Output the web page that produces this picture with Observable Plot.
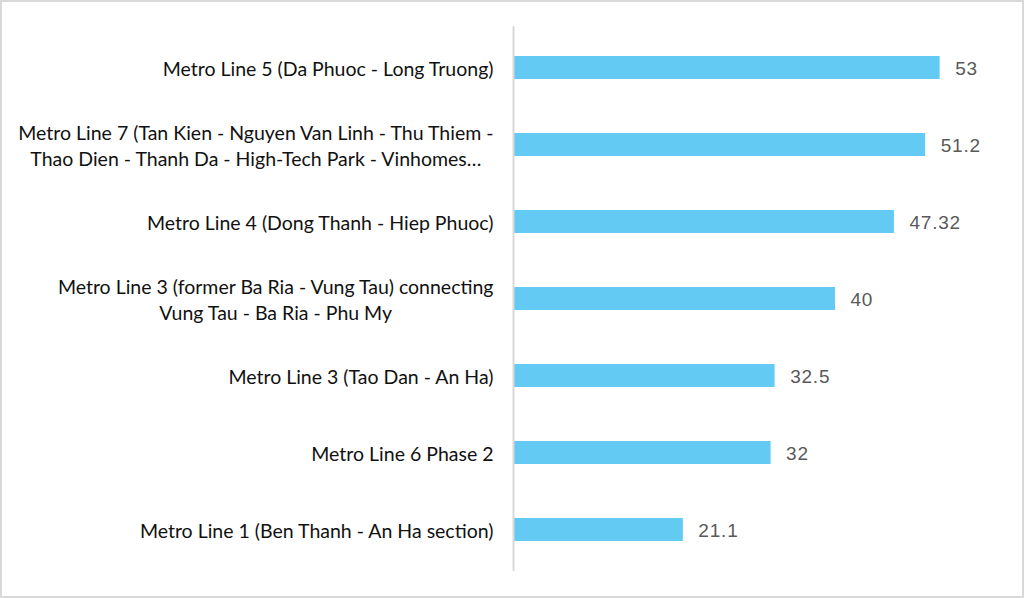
<!DOCTYPE html>
<html>
<head>
<meta charset="utf-8">
<script src="https://cdn.jsdelivr.net/npm/d3@7"></script>
<script src="https://cdn.jsdelivr.net/npm/@observablehq/plot@0.6"></script>
<style>
  html, body { margin: 0; padding: 0; background: #fff; }
  #frame { width: 1024px; height: 598px; box-sizing: border-box; border: 2px solid #d9d9d9; background: #fff; overflow: hidden; }
  #frame svg { display: block; }
</style>
</head>
<body>
<div id="frame"></div>
<script>
const categories = [
  "Metro Line 5 (Da Phuoc - Long Truong)",
  "Metro Line 7 (Tan Kien - Nguyen Van Linh - Thu Thiem -\nThao Dien - Thanh Da - High-Tech Park - Vinhomes…",
  "Metro Line 4 (Dong Thanh - Hiep Phuoc)",
  "Metro Line 3 (former Ba Ria - Vung Tau) connecting\nVung Tau - Ba Ria - Phu My",
  "Metro Line 3 (Tao Dan - An Ha)",
  "Metro Line 6 Phase 2",
  "Metro Line 1 (Ben Thanh - An Ha section)"
];
const values = [53, 51.2, 47.32, 40, 32.5, 32, 21.1];
const valueLabels = ["53", "51.2", "47.32", "40", "32.5", "32", "21.1"];

const data = categories.map((c, i) => ({name: c, value: values[i], label: valueLabels[i]}));

const chart = Plot.plot({
  width: 1020,
  height: 594,
  marginLeft: 511,
  marginRight: 26,
  marginTop: 24,
  marginBottom: 25,
  style: {background: "#fff", overflow: "visible"},
  x: {domain: [0, 60], axis: null},
  y: {domain: categories, padding: 0, label: null},
  marks: [
    Plot.barX(data, {x: "value", y: "name", fill: "#63cbf3", insetTop: 27, insetBottom: 27}),
    Plot.ruleX([0], {stroke: "#d9d9d9", strokeWidth: 2}),
    Plot.text(data, {x: "value", y: "name", text: "label", textAnchor: "start", dx: 15, dy: 1,
      fill: "#595959", fontSize: 19, fontFamily: "Liberation Sans, Arial, sans-serif"}),
    Plot.axisY({tickSize: 0, tickPadding: 20, label: null, fontSize: 19.5, lineHeight: 1.33,
      fontFamily: "Lato, sans-serif", fill: "#111", textOverflow: null})
  ]
});
document.getElementById("frame").appendChild(chart);

// value labels: slightly spaced digits like the reference
chart.querySelectorAll("g[aria-label='text'] text").forEach(t => t.setAttribute("letter-spacing", "0.8"));

// center-align the lines of multi-line labels within their block (block stays right-aligned)
chart.querySelectorAll("g[aria-label='y-axis tick label'] text").forEach(t => {
  const spans = t.querySelectorAll("tspan");
  if (spans.length > 1) {
    const w = t.getBBox().width;
    t.setAttribute("text-anchor", "middle");
    spans.forEach(s => s.setAttribute("x", -w / 2));
  }
});
</script>
</body>
</html>
